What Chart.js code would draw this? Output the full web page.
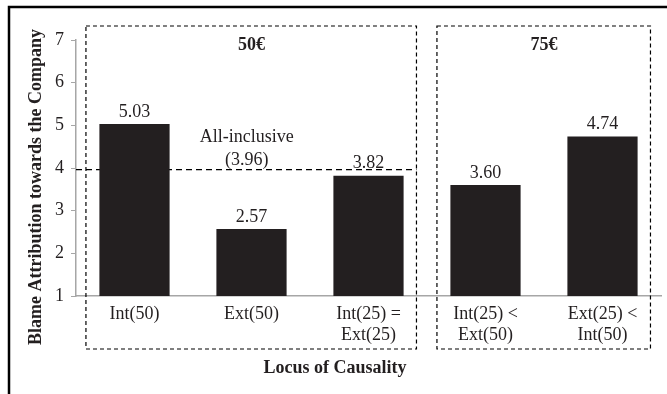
<!DOCTYPE html>
<html>
<head>
<meta charset="utf-8">
<script src="https://cdn.jsdelivr.net/npm/chart.js@4.4.1/dist/chart.umd.min.js"></script>
<style>
  html, body { margin: 0; padding: 0; background: #ffffff; }
  #wrap { width: 667px; height: 394px; position: relative; }
</style>
</head>
<body>
<div id="wrap"><canvas id="blameChart" width="667" height="394"></canvas></div>
<script>
// data
const categories = [['Int(50)'], ['Ext(50)'], ['Int(25) =', 'Ext(25)'], ['Int(25) <', 'Ext(50)'], ['Ext(25) <', 'Int(50)']];
const blameValues = [5.03, 2.57, 3.82, 3.60, 4.74];
const valueLabels = ['5.03', '2.57', '3.82', '3.60', '4.74'];
const yTicks = [1, 2, 3, 4, 5, 6, 7];
const allInclusive = 3.96;
const allInclusiveLabel = ['All-inclusive', '(3.96)'];
const groupLabels = ['50€', '75€'];
const groupStart = [0, 3];
const groupEnd = [2, 4];

const SERIF = '"Liberation Serif", "Times New Roman", serif';
const INK = '#231f20';

// Extra drawing: frame, group boxes, reference line, labels, axis titles
const annotations = {
    id: 'annotations',
    beforeDatasetsDraw(chart) {
        const { ctx, chartArea, scales: { x, y } } = chart;
        const step = x.getPixelForValue(1) - x.getPixelForValue(0);
        ctx.save();

        // outer frame (only top and left are in view)
        ctx.strokeStyle = '#000';
        ctx.lineWidth = 2.5;
        ctx.beginPath();
        ctx.moveTo(9, 400);
        ctx.lineTo(9, 7);
        ctx.lineTo(680, 7);
        ctx.stroke();

        // dashed group boxes
        ctx.lineWidth = 1.2;
        ctx.setLineDash([4, 3]);
        const top = y.getPixelForValue(7) - 14;
        const bottom = chartArea.bottom + 53;
        const rights = [];
        groupLabels.forEach((g, i) => {
            const left = x.getPixelForValue(groupStart[i]) - 0.415 * step;
            const right = x.getPixelForValue(groupEnd[i]) + 0.41 * step;
            rights.push(right);
            ctx.strokeRect(left, top, right - left, bottom - top);
        });

        // all-inclusive reference line
        const yRef = y.getPixelForValue(allInclusive);
        ctx.setLineDash([6, 4]);
        ctx.beginPath();
        ctx.moveTo(chartArea.left, yRef);
        ctx.lineTo(rights[0], yRef);
        ctx.stroke();
        ctx.setLineDash([]);

        ctx.fillStyle = INK;
        ctx.textAlign = 'center';
        ctx.textBaseline = 'middle';
        ctx.font = '18px ' + SERIF;
        const xRef = x.getPixelForValue(0.96);
        ctx.fillText(allInclusiveLabel[0], xRef, yRef - 32);
        ctx.fillText(allInclusiveLabel[1], xRef, yRef - 9);

        // group titles
        ctx.font = 'bold 18px ' + SERIF;
        groupLabels.forEach((g, i) => {
            const cx = (x.getPixelForValue(groupStart[i]) + x.getPixelForValue(groupEnd[i])) / 2;
            ctx.fillText(g, cx, top + 19);
        });

        // axis titles
        ctx.fillText('Locus of Causality', 335, chartArea.bottom + 72);
        ctx.save();
        ctx.translate(36, 187);
        ctx.rotate(-Math.PI / 2);
        ctx.fillText('Blame Attribution towards the Company', 0, 0);
        ctx.restore();

        ctx.restore();
    },
    afterDatasetsDraw(chart) {
        const { ctx } = chart;
        const meta = chart.getDatasetMeta(0);
        ctx.save();
        ctx.fillStyle = INK;
        ctx.font = '18px ' + SERIF;
        ctx.textAlign = 'center';
        ctx.textBaseline = 'bottom';
        meta.data.forEach((bar, i) => {
            ctx.fillText(valueLabels[i], bar.x, bar.y - 3);
        });
        ctx.restore();
    }
};

const ctx = document.getElementById('blameChart').getContext('2d');
new Chart(ctx, {
    type: 'bar',
    data: {
        labels: categories,
        datasets: [{
            data: blameValues,
            backgroundColor: INK,
            borderWidth: 0,
            categoryPercentage: 1.0,
            barPercentage: 0.6
        }]
    },
    options: {
        responsive: false,
        animation: false,
        devicePixelRatio: 1,
        layout: { padding: { left: 0, right: 6, top: 40, bottom: 0 } },
        plugins: {
            legend: { display: false },
            tooltip: { enabled: false }
        },
        scales: {
            x: {
                grid: { display: false },
                border: { display: true, color: '#a6a6a6', width: 1.5 },
                ticks: {
                    color: INK,
                    font: { family: SERIF, size: 18, lineHeight: 1.15 },
                    padding: 0,
                    maxRotation: 0,
                    autoSkip: false
                },
                afterFit(scale) { scale.height = 98; }
            },
            y: {
                min: 1,
                max: 7,
                afterBuildTicks(scale) { scale.ticks = yTicks.map(v => ({ value: v })); },
                grid: { display: true, drawOnChartArea: false, drawTicks: true, tickLength: 5, color: '#a6a6a6' },
                border: { display: true, color: '#a6a6a6', width: 1.5 },
                ticks: {
                    color: INK,
                    font: { family: SERIF, size: 18 },
                    padding: 7
                },
                afterFit(scale) { scale.width = 76; }
            }
        }
    },
    plugins: [annotations]
});
</script>
</body>
</html>
